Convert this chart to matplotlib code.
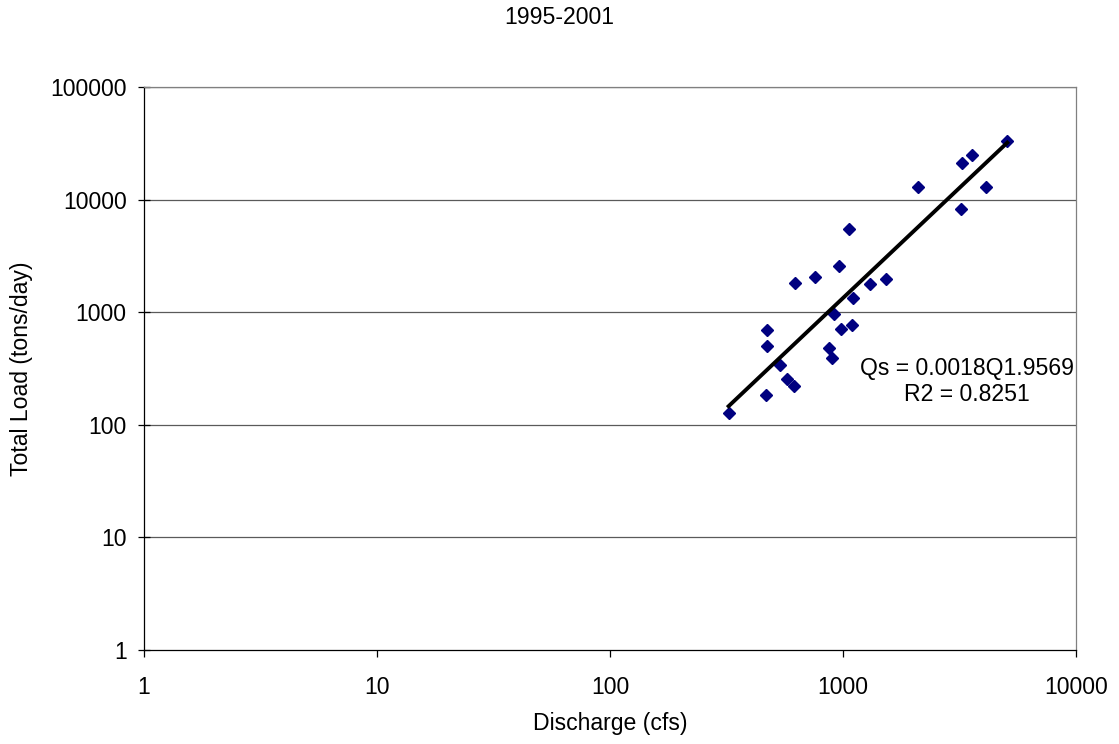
import numpy as np
import matplotlib
matplotlib.use("Agg")
import matplotlib.pyplot as plt
from matplotlib.ticker import FixedLocator, FixedFormatter, NullLocator

plt.rcParams['font.family'] = ['Liberation Sans', 'DejaVu Sans']

# Measured discharge (cfs) and total sediment load (tons/day)
discharge = [5070, 3566, 3251, 2105, 4110, 3209, 1058, 958, 622, 760,
             1302, 1529, 1107, 912, 977, 1090, 473, 470, 874, 900,
             535, 575, 614, 467, 323]
total_load = [33360, 24730, 21000, 12860, 13020, 8250, 5515, 2572, 1828, 2066,
              1769, 1960, 1329, 958, 705, 774, 699, 504, 478, 394,
              340, 254, 221, 183, 126.5]

# Power-law rating curve Qs = a * Q^b
coef_a = 0.0018
coef_b = 1.9569
r_squared = 0.8251

title = "1995-2001"
x_label = "Discharge (cfs)"
y_label = "Total Load (tons/day)"
x_ticks = [1, 10, 100, 1000, 10000]
y_ticks = [1, 10, 100, 1000, 10000, 100000]

FS = 16.6

fig = plt.figure(figsize=(11.19, 7.44), dpi=100)
ax = fig.add_axes([144/1119, 1-650/744, (1076-144)/1119, (650-87)/744])

ax.set_xscale('log')
ax.set_yscale('log')
ax.set_xlim(1, 10000)
ax.set_ylim(1, 100000)

# horizontal gridlines
for yv in y_ticks[1:]:
    ax.axhline(yv, color='#5a5a5a', lw=0.9, zorder=0)

ax.plot(discharge, total_load, linestyle='none', marker='D', ms=6.2,
        color='#000080', mec='#000080', zorder=3)

q_fit = np.array([min(discharge), max(discharge)])
q_line = np.logspace(np.log10(q_fit[0]), np.log10(q_fit[1]), 50)
ax.plot(q_line, coef_a * q_line ** coef_b, color='black', lw=2.8, zorder=4)

ax.text(3406, 242, f"Qs = {coef_a}Q{coef_b}\nR2 = {r_squared}",
        ha='center', va='center', fontsize=FS, linespacing=1.2, zorder=5)

for side in ['left', 'bottom']:
    ax.spines[side].set_color('black')
    ax.spines[side].set_linewidth(0.9)
for side in ['top', 'right']:
    ax.spines[side].set_color('#808080')
    ax.spines[side].set_linewidth(0.9)

ax.xaxis.set_major_locator(FixedLocator(x_ticks))
ax.xaxis.set_major_formatter(FixedFormatter([str(v) for v in x_ticks]))
ax.yaxis.set_major_locator(FixedLocator(y_ticks))
ax.yaxis.set_major_formatter(FixedFormatter([str(v) for v in y_ticks]))
ax.xaxis.set_minor_locator(NullLocator())
ax.yaxis.set_minor_locator(NullLocator())
ax.tick_params(axis='x', direction='out', length=5, width=0.9, labelsize=FS, pad=14)
ax.tick_params(axis='y', direction='inout', length=9, width=0.9, labelsize=FS, pad=8)

ax.set_xlabel(x_label, fontsize=FS, labelpad=9)
ax.set_ylabel(y_label, fontsize=FS, labelpad=12)
fig.text(0.5, 1-18/744, title, ha='center', va='center', fontsize=FS)

fig.savefig("out.png", dpi=100)
